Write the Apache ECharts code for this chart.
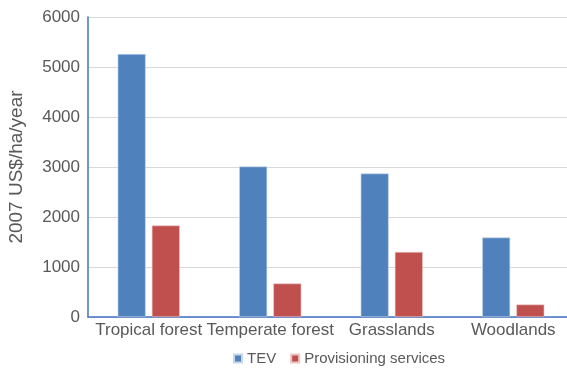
<!DOCTYPE html>
<html>
<head>
<meta charset="utf-8">
<script src="https://cdn.jsdelivr.net/npm/echarts@6/dist/echarts.min.js"></script>
<style>
html,body{margin:0;padding:0;background:#fff;}
#chart{width:567px;height:371px;}
</style>
</head>
<body>
<div id="chart"></div>
<script>
var categories = ["Tropical forest", "Temperate forest", "Grasslands", "Woodlands"];
var tevValues = [5260, 3010, 2870, 1590];
var provisioningValues = [1830, 670, 1300, 250];
var seriesNames = ["TEV", "Provisioning services"];
var yTicks = [0, 1000, 2000, 3000, 4000, 5000, 6000];

var font = "Liberation Sans";
var chart = echarts.init(document.getElementById('chart'), null, {renderer: 'canvas'});
chart.setOption({
  animation: false,
  backgroundColor: '#ffffff',
  textStyle: {fontFamily: font},
  grid: {left: 88, top: 17, width: 486, height: 300, containLabel: false, outerBoundsMode: 'none'},
  legend: {
    data: seriesNames,
    bottom: 0,
    left: 228,
    itemWidth: 8, itemHeight: 8, itemGap: 14,
    icon: 'rect',
    textStyle: {color: '#595959', fontSize: 15, fontFamily: font}
  },
  xAxis: {
    type: 'category',
    data: categories,
    axisLine: {show: true, lineStyle: {color: '#4472C4', width: 1.5}},
    axisTick: {show: false},
    axisLabel: {color: '#595959', fontSize: 17, margin: 5, interval: 0, fontFamily: font}
  },
  yAxis: {
    type: 'value',
    min: yTicks[0], max: yTicks[yTicks.length - 1], interval: 1000,
    name: '2007 US$/ha/year',
    nameLocation: 'middle',
    nameGap: 62,
    nameTextStyle: {color: '#595959', fontSize: 19, fontFamily: font},
    axisLine: {show: true, lineStyle: {color: '#4472C4', width: 1.5}},
    axisTick: {show: false},
    axisLabel: {color: '#595959', fontSize: 17, margin: 8, fontFamily: font,
      formatter: function (v) { return String(v); }},
    splitLine: {show: true, lineStyle: {color: '#d9d9d9', width: 1}}
  },
  series: [
    {
      name: seriesNames[0], type: 'bar', data: tevValues,
      barWidth: 28, barGap: '22%',
      itemStyle: {color: '#4F81BD', borderColor: '#c8d6ea', borderWidth: 0.6}
    },
    {
      name: seriesNames[1], type: 'bar', data: provisioningValues,
      barWidth: 28,
      itemStyle: {color: '#C0504D', borderColor: '#ecc6c5', borderWidth: 0.6}
    }
  ]
});
</script>
</body>
</html>
